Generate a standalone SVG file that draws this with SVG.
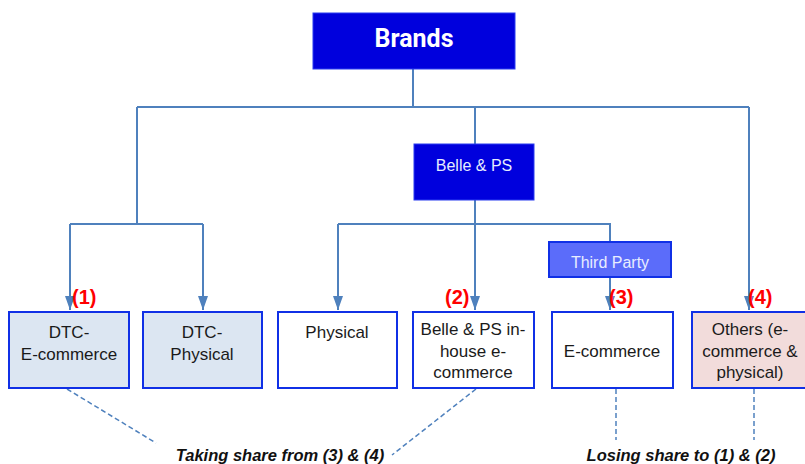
<svg xmlns="http://www.w3.org/2000/svg" width="805" height="464" viewBox="0 0 805 464">
<defs>
<style>
.conn{stroke:#4F81BD;stroke-width:2;fill:none}
.dash{stroke:#4F81BD;stroke-width:1.5;fill:none;stroke-dasharray:5,3}
.box{stroke:#1030E6;stroke-width:2}
.t{font-family:"Liberation Sans",Arial,sans-serif;font-size:17px;fill:#1a1a1a;text-anchor:middle}
.lbl{font-family:"Liberation Sans",Arial,sans-serif;font-size:20px;font-weight:bold;fill:#FF0000}
.note{font-family:"Liberation Sans",Arial,sans-serif;font-size:16.5px;font-weight:bold;font-style:italic;fill:#111;text-anchor:middle}
</style>
<marker id="a" markerUnits="userSpaceOnUse" markerWidth="14" markerHeight="12" viewBox="0 0 14 12" refX="14" refY="6" orient="auto">
<path d="M0,1 L14,6 L0,11 Z" fill="#4F81BD"/>
</marker>
</defs>
<rect width="805" height="464" fill="#fff"/>
<g id="connectors">
<path class="conn" d="M413,69 V107 M137,107 H749 M475,107 V144"/>
<path class="conn" d="M137,107 V224 M70,224 H203"/>
<path class="conn" d="M70,224 V310" marker-end="url(#a)"/>
<path class="conn" d="M203,224 V310" marker-end="url(#a)"/>
<path class="conn" d="M475,200 V224 M338,224 H610 V242"/>
<path class="conn" d="M338,224 V310" marker-end="url(#a)"/>
<path class="conn" d="M475,224 V310" marker-end="url(#a)"/>
<path class="conn" d="M610,277 V310" marker-end="url(#a)"/>
<path class="conn" d="M749,107 V310" marker-end="url(#a)"/>
<path class="dash" d="M67,389 L156,443"/>
<path class="dash" d="M476,389 L392,455"/>
<path class="dash" d="M616,389 V440"/>
<path class="dash" d="M754,389 V440"/>
</g>
<g id="brands">
<rect x="313" y="13" width="202" height="56" fill="#0000DD" stroke="#2a3cf0" stroke-width="1"/>
<text x="414" y="47" font-family="Roboto,'Liberation Sans',sans-serif" font-size="25" font-weight="bold" fill="#fff" text-anchor="middle">Brands</text>
</g>
<g id="belle">
<rect x="414" y="144" width="120" height="56" fill="#0000DD" stroke="#2a3cf0" stroke-width="1"/>
<text class="t" x="474" y="171" style="font-size:16px;fill:#E6ECFF">Belle &amp; PS</text>
</g>
<g id="thirdparty">
<rect x="549" y="242" width="122" height="35" fill="#5B6CFA" class="box"/>
<text class="t" x="610" y="268" style="font-size:16px;fill:#E8EDFF">Third Party</text>
</g>
<g id="dtc-ecom">
<rect class="box" x="9" y="312" width="120" height="76" fill="#DCE6F2"/>
<text class="t" x="69" y="338">DTC-</text>
<text class="t" x="69" y="360">E-commerce</text>
<text class="lbl" x="72" y="304">(1)</text>
</g>
<g id="dtc-phys">
<rect class="box" x="143" y="312" width="119" height="76" fill="#DCE6F2"/>
<text class="t" x="202" y="338">DTC-</text>
<text class="t" x="202" y="360">Physical</text>
</g>
<g id="physical">
<rect class="box" x="278" y="312" width="119" height="76" fill="#fff"/>
<text class="t" x="337" y="338">Physical</text>
</g>
<g id="inhouse">
<rect class="box" x="413" y="312" width="121" height="76" fill="#fff"/>
<text class="t" x="473" y="335">Belle &amp; PS in-</text>
<text class="t" x="473" y="357">house e-</text>
<text class="t" x="473" y="378">commerce</text>
<text class="lbl" x="445" y="304">(2)</text>
</g>
<g id="ecommerce">
<rect class="box" x="552" y="312" width="121" height="76" fill="#fff"/>
<text class="t" x="612" y="357">E-commerce</text>
<text class="lbl" x="609" y="304">(3)</text>
</g>
<g id="others">
<rect class="box" x="692" y="312" width="114" height="76" fill="#F2DCDB"/>
<text class="t" x="750" y="335">Others (e-</text>
<text class="t" x="750" y="357">commerce &amp;</text>
<text class="t" x="750" y="378">physical)</text>
<text class="lbl" x="748" y="304">(4)</text>
</g>
<g id="notes">
<text class="note" x="280" y="461">Taking share from (3) &amp; (4)</text>
<text class="note" x="681" y="461">Losing share to (1) &amp; (2)</text>
</g>
</svg>
